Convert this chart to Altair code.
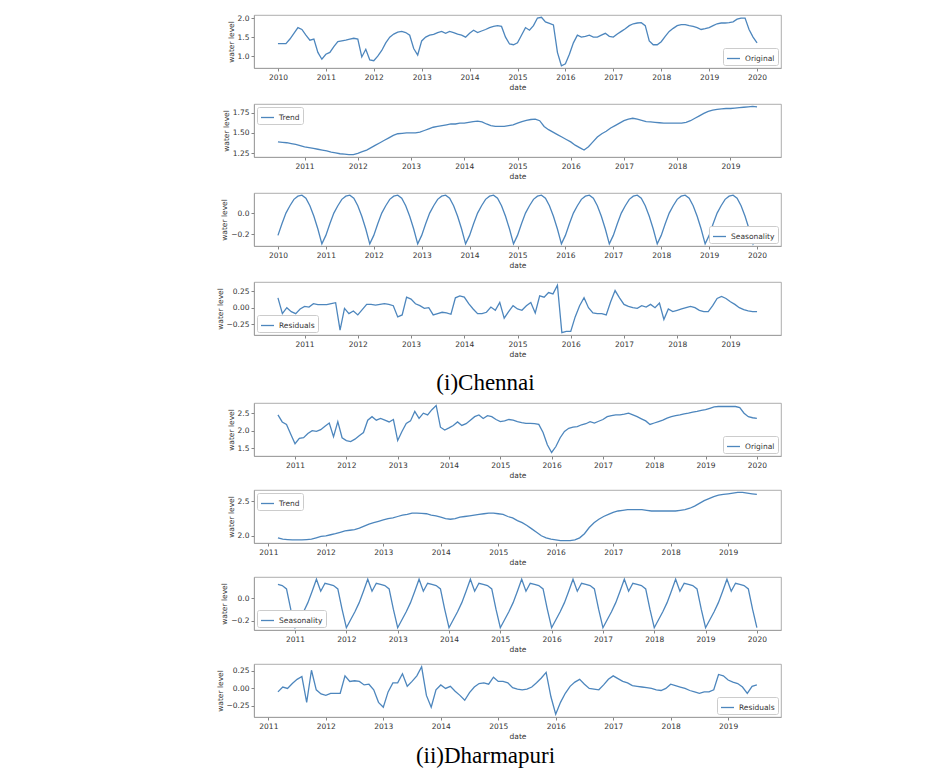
import altair as alt
import pandas as pd

LINE = "#4d86bd"

# ---------------- Chennai (monthly, Jan 2010 - Jan 2020) ----------------
CH_START = (2010, 1)
CH_ORIGINAL = [
    1.33, 1.33, 1.33, 1.45, 1.60, 1.75, 1.70, 1.55, 1.42, 1.45, 1.10, 0.92,
    1.05, 1.10, 1.25, 1.38, 1.40, 1.42, 1.45, 1.47, 1.45, 0.98, 1.18, 0.90,
    0.88, 1.00, 1.15, 1.35, 1.50, 1.58, 1.63, 1.65, 1.62, 1.55, 1.20, 1.03,
    1.40, 1.50, 1.55, 1.57, 1.62, 1.65, 1.60, 1.65, 1.62, 1.58, 1.55, 1.50,
    1.60, 1.68, 1.62, 1.66, 1.70, 1.75, 1.78, 1.80, 1.78, 1.50, 1.32, 1.30,
    1.35, 1.55, 1.75, 1.68, 1.80, 2.00, 2.02, 1.90, 1.86, 1.82, 1.10, 0.75,
    0.80, 1.05, 1.35, 1.55, 1.50, 1.52, 1.55, 1.50, 1.50, 1.55, 1.60, 1.52,
    1.50, 1.58, 1.65, 1.72, 1.80, 1.85, 1.87, 1.88, 1.80, 1.40, 1.30, 1.30,
    1.38, 1.52, 1.65, 1.73, 1.80, 1.83, 1.83, 1.80, 1.78, 1.75, 1.70, 1.72,
    1.75, 1.80, 1.85, 1.87, 1.87, 1.88, 1.90, 1.97, 2.00, 2.00, 1.70, 1.50,
    1.35,
]
CH_SEASONAL = [
    -0.21, -0.10, 0.00, 0.07, 0.13, 0.16, 0.17, 0.14, 0.07, -0.03, -0.15, -0.29,
    -0.21, -0.10, 0.00, 0.07, 0.13, 0.16, 0.17, 0.14, 0.07, -0.03, -0.15, -0.29,
    -0.21, -0.10, 0.00, 0.07, 0.13, 0.16, 0.17, 0.14, 0.07, -0.03, -0.15, -0.29,
    -0.21, -0.10, 0.00, 0.07, 0.13, 0.16, 0.17, 0.14, 0.07, -0.03, -0.15, -0.29,
    -0.21, -0.10, 0.00, 0.07, 0.13, 0.16, 0.17, 0.14, 0.07, -0.03, -0.15, -0.29,
    -0.21, -0.10, 0.00, 0.07, 0.13, 0.16, 0.17, 0.14, 0.07, -0.03, -0.15, -0.29,
    -0.21, -0.10, 0.00, 0.07, 0.13, 0.16, 0.17, 0.14, 0.07, -0.03, -0.15, -0.29,
    -0.21, -0.10, 0.00, 0.07, 0.13, 0.16, 0.17, 0.14, 0.07, -0.03, -0.15, -0.29,
    -0.21, -0.10, 0.00, 0.07, 0.13, 0.16, 0.17, 0.14, 0.07, -0.03, -0.15, -0.29,
    -0.21, -0.10, 0.00, 0.07, 0.13, 0.16, 0.17, 0.14, 0.07, -0.03, -0.15, -0.29,
    -0.21,
]
# trend / residuals: Jul 2010 - Jul 2019
CH_TREND_START = (2010, 7)
CH_TREND = [
    1.39, 1.385, 1.38, 1.37, 1.36, 1.345, 1.33, 1.32, 1.31, 1.30, 1.29, 1.28,
    1.265, 1.255, 1.245, 1.24, 1.235, 1.235, 1.25, 1.27, 1.29, 1.32, 1.35, 1.38,
    1.41, 1.44, 1.47, 1.49, 1.495, 1.50, 1.50, 1.50, 1.51, 1.53, 1.55, 1.57,
    1.58, 1.59, 1.60, 1.61, 1.61, 1.62, 1.62, 1.63, 1.64, 1.645, 1.635, 1.61,
    1.59, 1.58, 1.58, 1.58, 1.59, 1.60, 1.62, 1.64, 1.655, 1.665, 1.67, 1.65,
    1.58, 1.54, 1.51, 1.48, 1.45, 1.42, 1.39, 1.35, 1.32, 1.29, 1.33, 1.39,
    1.45, 1.49, 1.52, 1.56, 1.59, 1.62, 1.65, 1.67, 1.68, 1.67, 1.655, 1.64,
    1.635, 1.63, 1.625, 1.62, 1.62, 1.62, 1.62, 1.62, 1.63, 1.65, 1.68, 1.71,
    1.74, 1.765, 1.78, 1.79, 1.795, 1.80, 1.80, 1.805, 1.81, 1.815, 1.82, 1.825,
    1.82,
]
CH_RESID = [
    0.15, -0.09, 0.00, -0.06, -0.09, -0.02, 0.02, 0.01, 0.06, 0.045, 0.045, 0.045,
    0.06, 0.075, -0.34, -0.01, -0.09, -0.05, -0.11, -0.03, 0.05, 0.05, 0.04, 0.05,
    0.06, 0.05, 0.03, -0.14, -0.11, 0.16, 0.13, 0.06, 0.03, -0.01, 0.00, -0.11,
    -0.09, -0.07, -0.08, -0.10, 0.15, 0.18, 0.16, 0.06, -0.02, -0.09, -0.09, -0.07,
    0.01, -0.04, 0.08, -0.16, -0.06, 0.03, -0.02, -0.04, 0.03, 0.08, -0.08, 0.18,
    0.16, 0.23, 0.21, 0.34, -0.38, -0.36, -0.36, -0.14, 0.03, 0.15, 0.00, -0.08,
    -0.09, -0.09, -0.11, 0.09, 0.26, 0.15, 0.05, 0.02, 0.00, -0.01, 0.03, 0.01,
    0.05, 0.00, 0.07, -0.18, -0.02, -0.06, -0.04, -0.02, 0.00, 0.02, 0.00, -0.04,
    -0.06, -0.06, 0.03, 0.14, 0.17, 0.14, 0.09, 0.05, 0.00, -0.03, -0.05, -0.06,
    -0.06,
]

# ---------------- Dharmapuri (monthly, Sep 2010 - Jan 2020) ----------------
DH_START = (2010, 9)
DH_ORIGINAL = [
    2.45, 2.25, 2.18, 1.90,
    1.63, 1.78, 1.80, 1.92, 2.00, 1.98, 2.03, 2.13, 2.22, 1.83, 2.26, 1.80,
    1.72, 1.69, 1.76, 1.86, 1.95, 2.30, 2.40, 2.30, 2.35, 2.30, 2.25, 2.32,
    1.72, 1.98, 2.21, 2.28, 2.55, 2.35, 2.50, 2.45, 2.60, 2.72, 2.10, 2.02,
    2.08, 2.15, 2.25, 2.15, 2.20, 2.30, 2.40, 2.45, 2.35, 2.43, 2.40, 2.32,
    2.26, 2.28, 2.32, 2.30, 2.26, 2.23, 2.21, 2.21, 2.20, 2.18, 1.95, 1.60,
    1.38, 1.55, 1.80, 1.98, 2.07, 2.10, 2.12, 2.17, 2.20, 2.26, 2.22, 2.27,
    2.32, 2.40, 2.43, 2.45, 2.45, 2.47, 2.50, 2.45, 2.40, 2.34, 2.28, 2.18,
    2.22, 2.26, 2.30, 2.36, 2.40, 2.43, 2.45, 2.48, 2.50, 2.53, 2.55, 2.58,
    2.60, 2.64, 2.68, 2.69, 2.69, 2.69, 2.69, 2.69, 2.66, 2.50, 2.40, 2.37,
    2.35,
]
DH_SEASONAL = [
    0.12, 0.11, 0.08, -0.10,
    -0.26, -0.19, -0.12, -0.04, 0.06, 0.165, 0.06, 0.13, 0.12, 0.11, 0.08, -0.10,
    -0.26, -0.19, -0.12, -0.04, 0.06, 0.165, 0.06, 0.13, 0.12, 0.11, 0.08, -0.10,
    -0.26, -0.19, -0.12, -0.04, 0.06, 0.165, 0.06, 0.13, 0.12, 0.11, 0.08, -0.10,
    -0.26, -0.19, -0.12, -0.04, 0.06, 0.165, 0.06, 0.13, 0.12, 0.11, 0.08, -0.10,
    -0.26, -0.19, -0.12, -0.04, 0.06, 0.165, 0.06, 0.13, 0.12, 0.11, 0.08, -0.10,
    -0.26, -0.19, -0.12, -0.04, 0.06, 0.165, 0.06, 0.13, 0.12, 0.11, 0.08, -0.10,
    -0.26, -0.19, -0.12, -0.04, 0.06, 0.165, 0.06, 0.13, 0.12, 0.11, 0.08, -0.10,
    -0.26, -0.19, -0.12, -0.04, 0.06, 0.165, 0.06, 0.13, 0.12, 0.11, 0.08, -0.10,
    -0.26, -0.19, -0.12, -0.04, 0.06, 0.165, 0.06, 0.13, 0.12, 0.11, 0.08, -0.10,
    -0.26,
]
# trend / residuals: Mar 2011 - Jul 2019
DH_TREND_START = (2011, 3)
DH_TREND = [
    1.97, 1.95, 1.945, 1.94, 1.94, 1.94, 1.945, 1.95, 1.97, 1.99,
    2.00, 2.015, 2.03, 2.05, 2.07, 2.08, 2.09, 2.11, 2.14, 2.17,
    2.19, 2.21, 2.23, 2.25, 2.26, 2.28, 2.30, 2.31, 2.33, 2.33,
    2.325, 2.32, 2.30, 2.29, 2.27, 2.25, 2.24, 2.25, 2.27, 2.28,
    2.29, 2.30, 2.31, 2.32, 2.33, 2.33, 2.32, 2.31, 2.28, 2.26,
    2.22, 2.19, 2.15, 2.10, 2.05, 2.00, 1.97, 1.95, 1.94, 1.93,
    1.93, 1.93, 1.94, 1.97, 2.03, 2.12, 2.19, 2.24, 2.28, 2.31,
    2.34, 2.36, 2.37, 2.38, 2.38, 2.38, 2.38, 2.37, 2.36, 2.36,
    2.36, 2.36, 2.36, 2.36, 2.37, 2.38, 2.40, 2.43, 2.47, 2.51,
    2.54, 2.57, 2.59, 2.60, 2.61, 2.62, 2.63, 2.63, 2.62, 2.61,
    2.60,
]
DH_RESID = [
    -0.05, 0.02, 0.00, 0.07, 0.13, 0.17, -0.20, 0.26, -0.02, -0.08,
    -0.10, -0.07, -0.07, -0.07, 0.18, 0.10, 0.11, 0.10, 0.05, 0.06,
    -0.02, -0.20, -0.27, -0.05, 0.08, 0.08, 0.21, 0.03, 0.10, 0.18,
    0.31, -0.10, -0.27, -0.02, 0.05, 0.00, 0.03, -0.04, -0.10, -0.17,
    -0.06, 0.02, 0.07, 0.08, 0.06, 0.16, 0.10, 0.10, 0.08, 0.01,
    -0.01, -0.02, -0.01, 0.02, 0.08, 0.15, 0.23, -0.12, -0.37, -0.20,
    -0.07, 0.03, 0.09, 0.13, 0.06, 0.00, -0.01, -0.02, 0.05, 0.13,
    0.18, 0.14, 0.10, 0.08, 0.04, 0.03, 0.02, 0.01, 0.00, -0.02,
    -0.03, 0.00, 0.06, 0.04, 0.02, 0.00, -0.03, -0.05, -0.07, -0.05,
    -0.05, -0.02, 0.20, 0.18, 0.12, 0.09, 0.07, 0.02, -0.07, 0.03,
    0.05,
]

TICKS_10_20 = list(range(2010, 2021))
TICKS_11_19 = list(range(2011, 2020))
TICKS_11_20 = list(range(2011, 2021))

W, H = 527, 53


def years(start, n):
    y, m = start
    return [y + (m - 1 + i) / 12 for i in range(n)]


def panel(start, values, label, xdom, xticks, ydom, yticks, yfmt, orient):
    df = pd.DataFrame({"year": years(start, len(values)), "value": values,
                       "series": label})
    return alt.Chart(df).mark_line(strokeWidth=1.3, clip=True).encode(
        x=alt.X("year:Q",
                scale=alt.Scale(domain=xdom, nice=False, zero=False),
                axis=alt.Axis(values=xticks, format="d", title="date")),
        y=alt.Y("value:Q",
                scale=alt.Scale(domain=ydom, nice=False, zero=False),
                axis=alt.Axis(values=yticks, format=yfmt, title="water level",
                              titlePadding=2)),
        color=alt.Color("series:N",
                        scale=alt.Scale(domain=[label], range=[LINE]),
                        legend=alt.Legend(title=None, orient=orient, offset=3,
                                          padding=3, fillColor="white",
                                          strokeColor="#cccccc", cornerRadius=2,
                                          symbolType="stroke", symbolSize=170,
                                          symbolStrokeWidth=1.3,
                                          labelFontSize=7.5,
                                          labelFont="DejaVu Sans",
                                          labelColor="#333333")),
    ).properties(width=W, height=H)


ch = alt.vconcat(
    panel(CH_START, CH_ORIGINAL, "Original", [2009.5, 2020.5], TICKS_10_20,
          [0.69, 2.08], [1.0, 1.5, 2.0], ".1f", "bottom-right"),
    panel(CH_TREND_START, CH_TREND, "Trend", [2010.05, 2019.95], TICKS_11_19,
          [1.205, 1.855], [1.25, 1.5, 1.75], ".2f", "top-left"),
    panel(CH_START, CH_SEASONAL, "Seasonality", [2009.5, 2020.5], TICKS_10_20,
          [-0.31, 0.19], [-0.2, 0.0], ".1f", "bottom-right"),
    panel(CH_TREND_START, CH_RESID, "Residuals", [2010.05, 2019.95], TICKS_11_19,
          [-0.415, 0.39], [-0.25, 0.0, 0.25], ".2f", "bottom-left"),
    spacing=11,
    title=alt.TitleParams(text="(i)Chennai", orient="bottom", anchor="middle",
                          font="Liberation Serif", fontSize=23,
                          fontWeight="normal", color="black", offset=14, dx=-13),
).resolve_scale(color="independent").resolve_legend(color="independent")

dh = alt.vconcat(
    panel(DH_START, DH_ORIGINAL, "Original", [2010.2, 2020.47], TICKS_11_20,
          [1.28, 2.79], [1.5, 2.0, 2.5], ".1f", "bottom-right"),
    panel(DH_TREND_START, DH_TREND, "Trend", [2010.75, 2019.92], TICKS_11_19,
          [1.895, 2.665], [2.0, 2.5], ".1f", "top-left"),
    panel(DH_START, DH_SEASONAL, "Seasonality", [2010.2, 2020.47], TICKS_11_20,
          [-0.28, 0.185], [-0.2, 0.0], ".1f", "bottom-left"),
    panel(DH_TREND_START, DH_RESID, "Residuals", [2010.75, 2019.92], TICKS_11_19,
          [-0.41, 0.35], [-0.25, 0.0, 0.25], ".2f", "bottom-right"),
    spacing=9,
    title=alt.TitleParams(text="(ii)Dharmapuri", orient="bottom", anchor="middle",
                          font="Liberation Serif", fontSize=23,
                          fontWeight="normal", color="black", offset=5, dx=-13),
).resolve_scale(color="independent").resolve_legend(color="independent")

chart = alt.vconcat(ch, dh, spacing=6).resolve_scale(
    color="independent").resolve_legend(color="independent").properties(
    padding={"left": 207, "top": 5, "right": 5, "bottom": 5},
    background="white",
).configure_axis(
    domainColor="#999999", domainWidth=0.8, tickColor="#666666", tickWidth=0.8,
    tickSize=3, labelColor="#333333", titleColor="#333333",
    labelFont="DejaVu Sans", titleFont="DejaVu Sans", labelFontSize=7.5,
    titleFontSize=7.5, titleFontWeight="normal", labelPadding=2,
    titlePadding=3, grid=False, labelOverlap=False, labelFlush=False,
).configure_view(stroke="#999999", strokeWidth=0.8)

chart.save("out.html", embed_options={"renderer": "svg", "actions": False})
